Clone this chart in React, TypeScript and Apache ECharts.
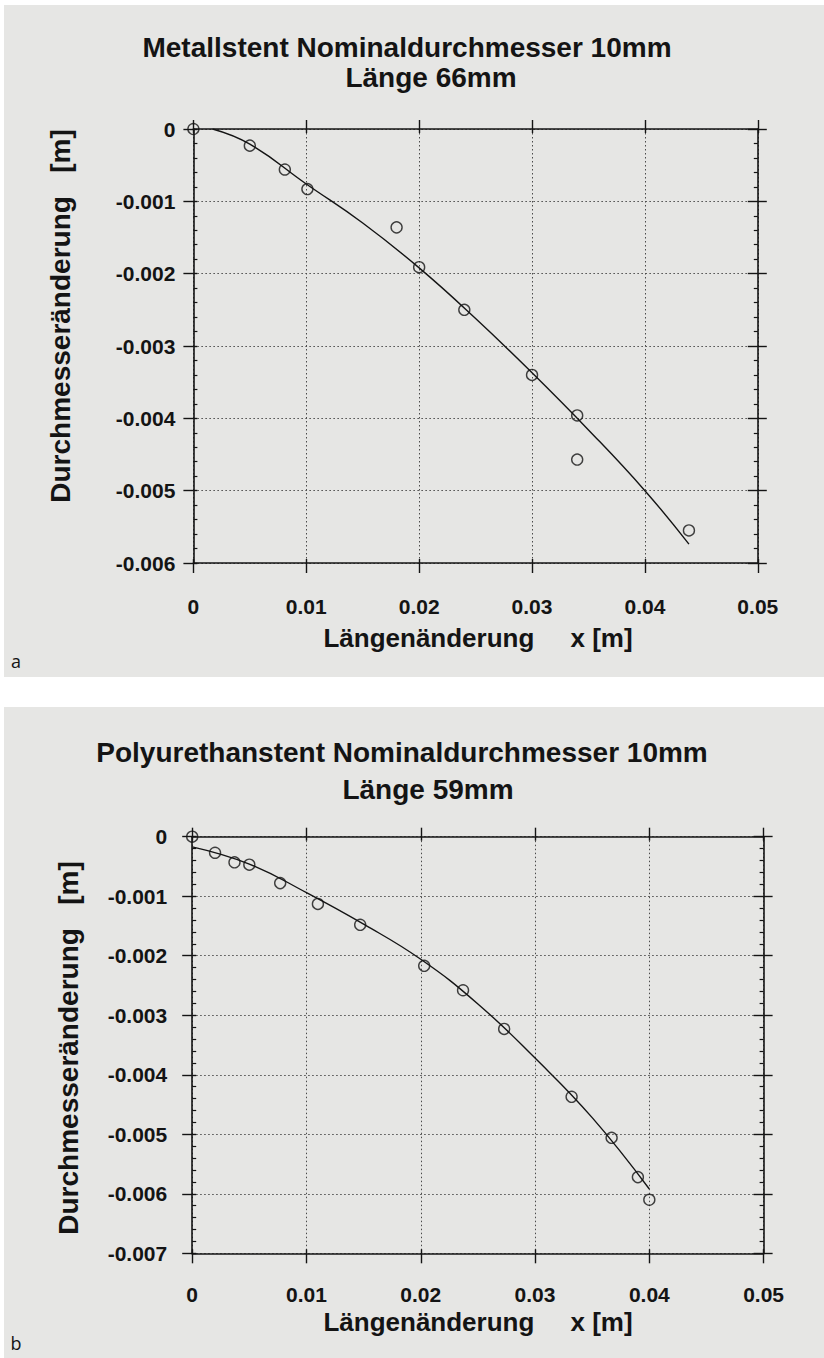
import React, { useEffect, useRef } from "react";
import * as echarts from "echarts";

// ---------- data ----------
const xTickValues = [0, 0.01, 0.02, 0.03, 0.04, 0.05];
const yTicksMetall = [0, -0.001, -0.002, -0.003, -0.004, -0.005, -0.006];
const yTicksPoly = [0, -0.001, -0.002, -0.003, -0.004, -0.005, -0.006, -0.007];

const titleMetall1 = "Metallstent Nominaldurchmesser 10mm";
const titleMetall2 = "Länge 66mm";
const titlePoly1 = "Polyurethanstent Nominaldurchmesser 10mm";
const titlePoly2 = "Länge 59mm";
const xAxisName = "Längenänderung     x [m]";
const yAxisName = "Durchmesseränderung   [m]";

// Panel a – Metallstent: measured points
const metallX = [0, 0.005, 0.0081, 0.0101, 0.018, 0.02, 0.024, 0.03, 0.034, 0.034, 0.0439];
const metallY = [0, -0.00023, -0.00056, -0.00083, -0.00136, -0.00191, -0.0025, -0.0034, -0.00396, -0.00457, -0.00555];
// Panel a – fitted curve
const metallFitX = [0.0017, 0.005, 0.01, 0.015, 0.02, 0.025, 0.03, 0.035, 0.04, 0.0439];
const metallFitY = [0, -0.00021, -0.00076, -0.0013, -0.00192, -0.00262, -0.00337, -0.00416, -0.005, -0.00574];

// Panel b – Polyurethanstent: measured points
const polyX = [0, 0.002, 0.0037, 0.005, 0.0077, 0.011, 0.0147, 0.0203, 0.0237, 0.0273, 0.0332, 0.0367, 0.039, 0.04];
const polyY = [0, -0.00027, -0.00043, -0.00047, -0.00078, -0.00113, -0.00148, -0.00217, -0.00258, -0.00323, -0.00437, -0.00506, -0.00572, -0.0061];
// Panel b – fitted curve
const polyFitX = [0, 0.005, 0.01, 0.015, 0.02, 0.025, 0.03, 0.035, 0.04];
const polyFitY = [-0.00017, -0.00046, -0.00094, -0.00147, -0.00206, -0.00281, -0.00372, -0.00472, -0.00592];

// ---------- styling ----------
const BG = "#e6e6e4";
const INK = "#141414";
const FONT = "'Liberation Sans', Arial, Helvetica, sans-serif";

const zip = (xs: number[], ys: number[]) => xs.map((x, i) => [x, ys[i]]);

function axesFor(
  gridIndex: number,
  yTicks: number[],
  yLabelMargin: number,
  xLabelMargin: number
) {
  const xMin = xTickValues[0];
  const xMax = xTickValues[xTickValues.length - 1];
  const xInt = xTickValues[1] - xTickValues[0];
  const yMin = yTicks[yTicks.length - 1];
  const yMax = yTicks[0];
  const yInt = yTicks[0] - yTicks[1];
  const baseX = { gridIndex, type: "value", min: xMin, max: xMax, interval: xInt };
  const baseY = { gridIndex, type: "value", min: yMin, max: yMax, interval: yInt };
  const line = { show: true, onZero: false, lineStyle: { color: INK, width: 1.6 } };
  const noLine = { show: false, onZero: false };
  const tickStyle = { color: INK, width: 1.4 };
  const labelStyle = { fontFamily: FONT, fontWeight: "bold", fontSize: 21, color: INK };
  const dotted = { show: true, lineStyle: { type: [1.5, 2.5], color: "#4a4a4a", width: 1 } };

  const xAxes = [
    {
      ...baseX,
      position: "bottom",
      axisLine: line,
      axisTick: { show: true, inside: false, length: 10, lineStyle: tickStyle },
      axisLabel: { show: true, margin: xLabelMargin, verticalAlign: "middle", ...labelStyle },
      splitLine: dotted,
    },
    {
      ...baseX,
      position: "top",
      axisLine: line,
      axisTick: { show: true, inside: false, length: 9, lineStyle: tickStyle },
      axisLabel: { show: false },
      splitLine: { show: false },
    },
    {
      ...baseX,
      position: "bottom",
      axisLine: noLine,
      axisTick: { show: true, inside: true, length: 4, lineStyle: tickStyle },
      axisLabel: { show: false },
      splitLine: { show: false },
    },
    {
      ...baseX,
      position: "top",
      axisLine: noLine,
      axisTick: { show: true, inside: true, length: 4, lineStyle: tickStyle },
      axisLabel: { show: false },
      splitLine: { show: false },
    },
  ];
  const yAxes = [
    {
      ...baseY,
      position: "left",
      axisLine: line,
      axisTick: { show: true, inside: false, length: 10, lineStyle: tickStyle },
      axisLabel: { show: true, margin: yLabelMargin, ...labelStyle },
      splitLine: dotted,
    },
    {
      ...baseY,
      position: "left",
      axisLine: noLine,
      axisTick: { show: true, inside: true, length: 4, lineStyle: tickStyle },
      minorTick: { show: true, splitNumber: 5, length: 4, lineStyle: { color: INK, width: 1.2 } },
      axisLabel: { show: false },
      splitLine: { show: false },
    },
    {
      ...baseY,
      position: "right",
      axisLine: line,
      axisTick: { show: true, inside: false, length: 9, lineStyle: tickStyle },
      axisLabel: { show: false },
      splitLine: { show: false },
    },
    {
      ...baseY,
      position: "right",
      axisLine: noLine,
      axisTick: { show: true, inside: true, length: 10, lineStyle: tickStyle },
      minorTick: { show: true, splitNumber: 5, length: 4, lineStyle: { color: INK, width: 1.2 } },
      axisLabel: { show: false },
      splitLine: { show: false },
    },
  ];
  return { xAxes, yAxes };
}

function seriesFor(axisIdx: number, name: string, px: number[], py: number[], fx: number[], fy: number[]) {
  return [
    {
      name: name + " Kurve",
      type: "line",
      xAxisIndex: axisIdx,
      yAxisIndex: axisIdx,
      data: zip(fx, fy),
      smooth: 0.45,
      showSymbol: false,
      symbol: "none",
      lineStyle: { color: INK, width: 1.4 },
      z: 3,
    },
    {
      name: name + " Messwerte",
      type: "scatter",
      xAxisIndex: axisIdx,
      yAxisIndex: axisIdx,
      data: zip(px, py),
      symbol: "circle",
      symbolSize: 11,
      itemStyle: { color: "rgba(0,0,0,0)", borderColor: INK, borderWidth: 1.4 },
      z: 4,
    },
  ];
}

function txt(text: string, x: number, y: number, size: number, opts: any = {}) {
  return {
    type: "text",
    x,
    y,
    rotation: opts.rotation || 0,
    z: 10,
    style: {
      text,
      fill: INK,
      font: `${opts.weight || "bold"} ${size}px ${opts.family || FONT}`,
      textAlign: opts.align || "center",
      textVerticalAlign: "middle",
    },
  };
}

export default function App() {
  const ref = useRef<HTMLDivElement>(null);

  useEffect(() => {
    if (!ref.current) return;
    const chart = echarts.init(ref.current, null, { renderer: "svg" });

    const a = axesFor(0, yTicksMetall, 18, 43);
    const b = axesFor(1, yTicksPoly, 25, 41);

    const option: any = {
      animation: false,
      backgroundColor: "#ffffff",
      grid: [
        { left: 193.4, top: 129, width: 564.4, height: 434 },
        { left: 192.2, top: 836.7, width: 571.4, height: 416.6 },
      ],
      xAxis: [...a.xAxes, ...b.xAxes],
      yAxis: [...a.yAxes, ...b.yAxes],
      series: [
        ...seriesFor(0, "Metallstent", metallX, metallY, metallFitX, metallFitY),
        ...seriesFor(4, "Polyurethanstent", polyX, polyY, polyFitX, polyFitY),
      ],
      graphic: [
        { type: "rect", z: -100, shape: { x: 4, y: 5, width: 820, height: 672 }, style: { fill: BG } },
        { type: "rect", z: -100, shape: { x: 4, y: 707, width: 820, height: 651 }, style: { fill: BG } },
        txt(titleMetall1, 407, 47, 28),
        txt(titleMetall2, 431, 77, 28),
        txt(titlePoly1, 402, 752, 28),
        txt(titlePoly2, 428, 789, 28),
        txt(yAxisName, 60, 316, 28, { rotation: Math.PI / 2 }),
        txt(yAxisName, 68, 1048, 28, { rotation: Math.PI / 2 }),
        txt(xAxisName, 478, 638, 26),
        txt(xAxisName, 478, 1322, 26),
        txt("a", 16, 661, 18, { weight: "normal", family: "'Open Sans', 'Noto Sans', sans-serif" }),
        txt("b", 16, 1343, 18, { weight: "normal", family: "'Open Sans', 'Noto Sans', sans-serif" }),
      ],
    };
    chart.setOption(option);
    return () => chart.dispose();
  }, []);

  return (
    <div
      ref={ref}
      style={{ position: "absolute", left: 0, top: 0, width: 824, height: 1358 }}
    />
  );
}
